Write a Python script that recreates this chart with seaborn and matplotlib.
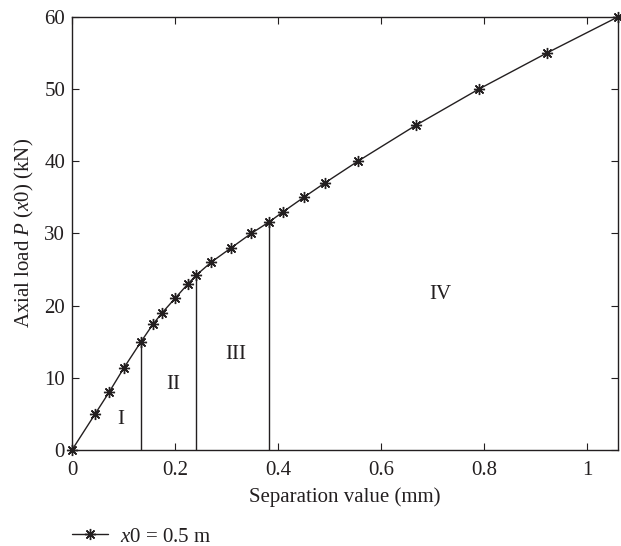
import matplotlib
matplotlib.use("Agg")
import matplotlib.pyplot as plt
import seaborn as sns
import pandas as pd
from matplotlib.lines import Line2D

# Data
separation = [0.0, 0.045, 0.072, 0.101, 0.134, 0.157, 0.175, 0.200, 0.225, 0.241,
              0.270, 0.309, 0.348, 0.383, 0.410, 0.450, 0.491, 0.555, 0.668,
              0.790, 0.922, 1.060]
load = [0, 5.0, 8.0, 11.4, 15.0, 17.4, 19.0, 21.0, 23.0, 24.2,
        26.0, 28.0, 30.0, 31.6, 33.0, 35.0, 37.0, 40.0, 45.0,
        50.0, 55.0, 60.0]
boundary_x = [0.134, 0.241, 0.383]
boundary_y = [15.0, 24.2, 31.6]
stage_labels = ["I", "II", "III", "IV"]
stage_x = [0.095, 0.196, 0.318, 0.716]
stage_y = [4.2, 9.0, 13.2, 21.6]
xticks = [0, 0.2, 0.4, 0.6, 0.8, 1.0]
xticklabels = ["0", "0.2", "0.4", "0.6", "0.8", "1"]
yticks = [0, 10, 20, 30, 40, 50, 60]

INK = "#231f20"
FS = 15

sns.set_style("ticks")
plt.rcParams['font.family'] = ['Liberation Serif', 'DejaVu Serif']
plt.rcParams['mathtext.fontset'] = 'custom'
plt.rcParams['mathtext.it'] = 'Liberation Serif:italic'
plt.rcParams['mathtext.rm'] = 'Liberation Serif'

fig = plt.figure(figsize=(6.21, 5.46), dpi=100)
ax = fig.add_axes([0.116, 0.176, 0.879, 0.793])

df = pd.DataFrame({"sep": separation, "load": load})
sns.lineplot(data=df, x="sep", y="load", ax=ax, color=INK, lw=1.0,
             marker=(8, 2, 0), markersize=8, markeredgewidth=1.0,
             markeredgecolor=INK, clip_on=False)

ax.vlines(boundary_x, 0, boundary_y, color=INK, lw=1.0)
for lab, x, y in zip(stage_labels, stage_x, stage_y):
    ax.text(x, y, lab, ha="center", va="center", fontsize=FS, color=INK)

ax.set_xlim(0, 1.06)
ax.set_ylim(0, 60)
ax.set_xticks(xticks)
ax.set_xticklabels(xticklabels)
ax.set_yticks(yticks)
ax.tick_params(direction="in", top=True, right=True, labelsize=FS,
               length=5, width=0.8, colors=INK)
ax.tick_params(axis="x", pad=8)
ax.tick_params(axis="y", pad=5)
for s in ax.spines.values():
    s.set_linewidth(1.0)
    s.set_color(INK)
ax.set_xlabel("Separation value (mm)", fontsize=FS, color=INK, labelpad=5)
ax.set_ylabel(r"Axial load $P$ ($x$0) (kN)", fontsize=FS, color=INK, labelpad=6)

handle = Line2D([], [], color=INK, lw=1.0, marker=(8, 2, 0), markersize=8,
                markeredgewidth=1.0)
leg = fig.legend([handle], [r"$x$0 = 0.5 m"], loc="center left",
                 bbox_to_anchor=(0.1025, 0.0165), frameon=False, fontsize=FS,
                 handlelength=1.73, handletextpad=0.58, borderaxespad=0)
for t in leg.get_texts():
    t.set_color(INK)

fig.savefig("out.png", dpi=100)
